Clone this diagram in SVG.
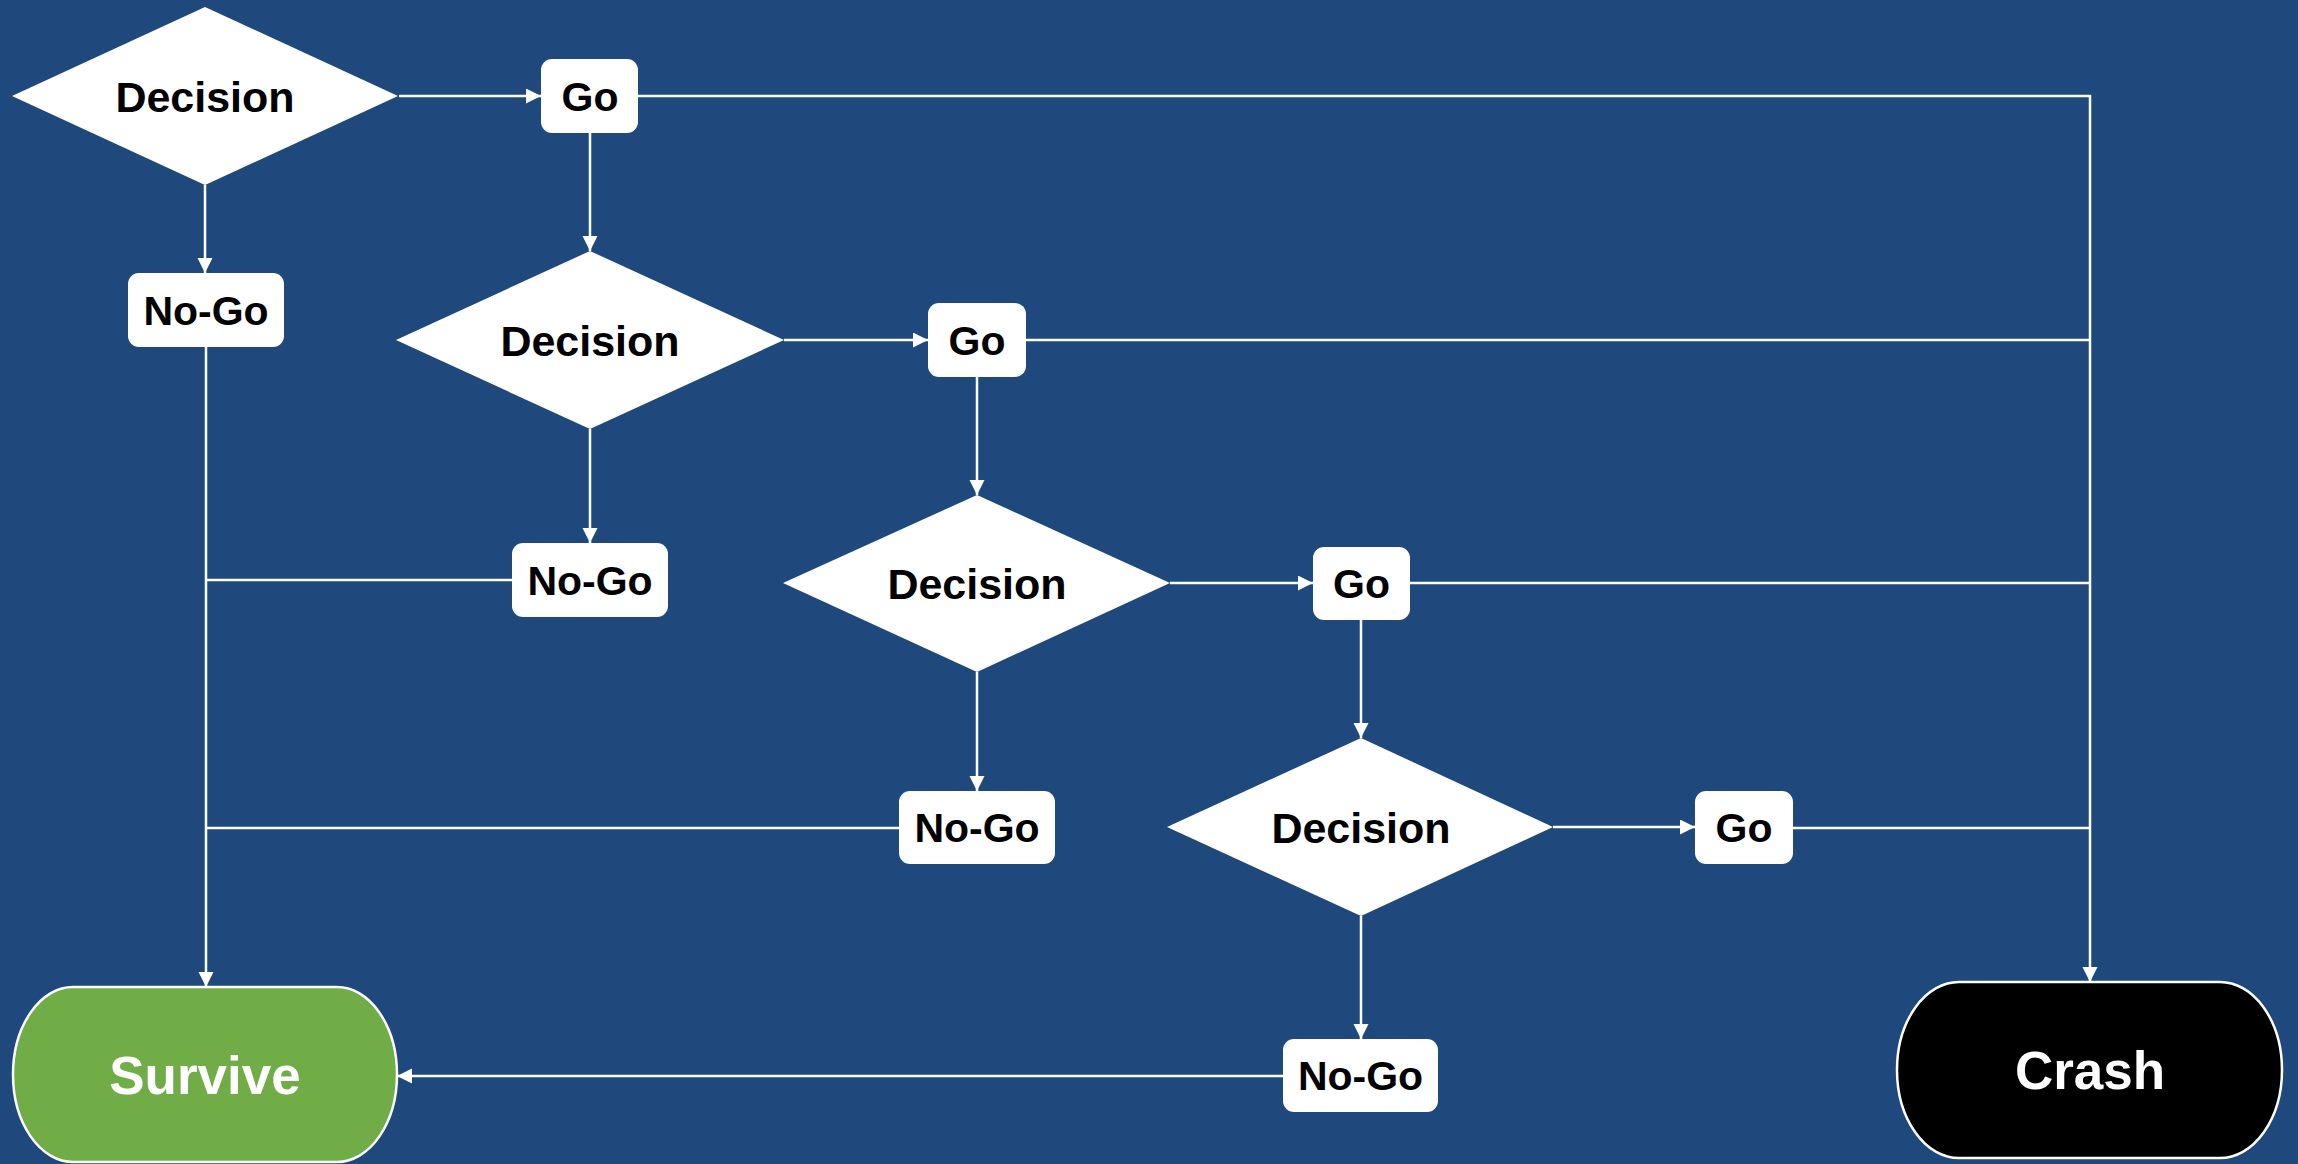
<svg xmlns="http://www.w3.org/2000/svg" width="2298" height="1164" viewBox="0 0 2298 1164">
<style>
.bg{fill:#1F497D}
.dec{fill:#FFFFFF}
.box{fill:#FFFFFF}
.lbl{font-family:"Liberation Sans",Arial,sans-serif;font-weight:bold;font-size:43px;fill:#000000;text-anchor:middle}
.blbl{font-family:"Liberation Sans",Arial,sans-serif;font-weight:bold;font-size:41px;fill:#000000;text-anchor:middle}
.term{font-family:"Liberation Sans",Arial,sans-serif;font-weight:bold;font-size:53px;fill:#FFFFFF;text-anchor:middle}
.c{fill:none;stroke:#FFFFFF;stroke-width:2.5}
.a{marker-end:url(#arr)}
</style>
<defs>
<marker id="arr" markerUnits="userSpaceOnUse" markerWidth="16" markerHeight="16" refX="15" refY="7.5" orient="auto">
<path d="M0,0 L15,7.5 L0,15 z" fill="#FFFFFF"/>
</marker>
</defs>
<rect class="bg" x="0" y="0" width="2298" height="1164"/>
<g id="connectors">
<path class="c a" d="M399,96 H541"/>
<path class="c a" d="M205,185 V273"/>
<path class="c a" d="M590,133 V251"/>
<path class="c a" d="M638,96 H2090 V982"/>
<path class="c a" d="M784,340 H928"/>
<path class="c a" d="M590,429 V543"/>
<path class="c" d="M1026,340 H2090"/>
<path class="c a" d="M977,377 V495"/>
<path class="c a" d="M206,347 V987"/>
<path class="c" d="M512,580 H206"/>
<path class="c a" d="M1170,583 H1313"/>
<path class="c a" d="M977,672 V791"/>
<path class="c" d="M1410,583 H2090"/>
<path class="c a" d="M1361,620 V738"/>
<path class="c" d="M899,828 H206"/>
<path class="c a" d="M1553,827 H1695"/>
<path class="c a" d="M1361,916 V1039"/>
<path class="c" d="M1793,828 H2090"/>
<path class="c a" d="M1283,1076 H397"/>
</g>
<g id="decision1"><polygon class="dec" points="12,96 205,7 398,96 205,185"/><text class="lbl" x="205" y="112">Decision</text></g>
<g id="go1"><rect class="box" x="541" y="59" width="97" height="74" rx="11"/><text class="blbl" x="590" y="111">Go</text></g>
<g id="nogo1"><rect class="box" x="128" y="273" width="156" height="74" rx="11"/><text class="blbl" x="206" y="325">No-Go</text></g>
<g id="decision2"><polygon class="dec" points="396,340 590,251 784,340 590,429"/><text class="lbl" x="590" y="356">Decision</text></g>
<g id="go2"><rect class="box" x="928" y="303" width="98" height="74" rx="11"/><text class="blbl" x="977" y="355">Go</text></g>
<g id="nogo2"><rect class="box" x="512" y="543" width="156" height="74" rx="11"/><text class="blbl" x="590" y="595">No-Go</text></g>
<g id="decision3"><polygon class="dec" points="783,583 977,495 1170,583 977,672"/><text class="lbl" x="977" y="599">Decision</text></g>
<g id="go3"><rect class="box" x="1313" y="547" width="97" height="73" rx="11"/><text class="blbl" x="1361.5" y="598">Go</text></g>
<g id="nogo3"><rect class="box" x="899" y="791" width="156" height="73" rx="11"/><text class="blbl" x="977" y="842">No-Go</text></g>
<g id="decision4"><polygon class="dec" points="1167,827 1361,738 1553,827 1361,916"/><text class="lbl" x="1361" y="843">Decision</text></g>
<g id="go4"><rect class="box" x="1695" y="791" width="98" height="73" rx="11"/><text class="blbl" x="1744" y="842">Go</text></g>
<g id="nogo4"><rect class="box" x="1283" y="1039" width="155" height="73" rx="11"/><text class="blbl" x="1360.5" y="1090">No-Go</text></g>
<g id="survive"><rect x="13" y="987" width="384" height="175" rx="60" ry="87.5" fill="#70AD47" stroke="#FFFFFF" stroke-width="2.5"/><text class="term" x="205" y="1094">Survive</text></g>
<g id="crash"><rect x="1897" y="982" width="385" height="176" rx="62" ry="88" fill="#000000" stroke="#FFFFFF" stroke-width="2.5"/><text class="term" x="2090" y="1089">Crash</text></g>
</svg>
